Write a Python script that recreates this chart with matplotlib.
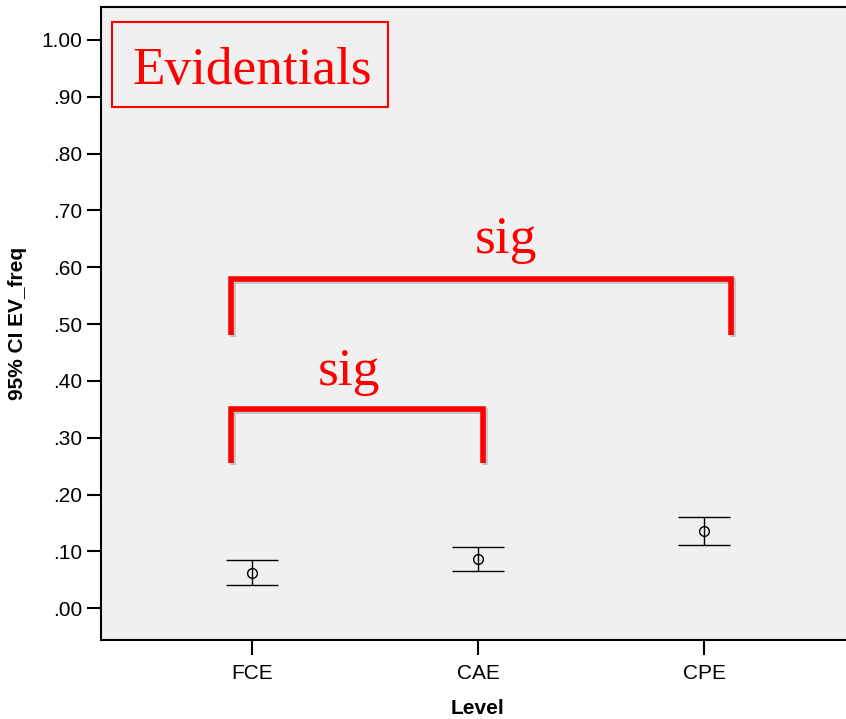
import matplotlib.pyplot as plt
import matplotlib.patheffects as pe
from matplotlib.patches import Rectangle
import numpy as np

levels = ['FCE', 'CAE', 'CPE']
means = [0.062, 0.086, 0.136]
ci_low = [0.041, 0.066, 0.112]
ci_high = [0.084, 0.107, 0.161]
yticks = [0.0, 0.1, 0.2, 0.3, 0.4, 0.5, 0.6, 0.7, 0.8, 0.9, 1.0]
ytick_labels = ['.00', '.10', '.20', '.30', '.40', '.50', '.60', '.70', '.80', '.90', '1.00']

# significance brackets: (left x, right x, top y, leg bottom y)
brackets = [(0.907, 3.12, 0.579, 0.481), (0.907, 2.02, 0.350, 0.255)]
sig_pos = [(2.124, 0.625), (1.429, 0.393)]

plt.rcParams['font.family'] = ['Liberation Sans', 'DejaVu Sans']
fig = plt.figure(figsize=(8.46, 7.19), dpi=100)
ax = fig.add_axes([101/846, 1-640/719, (855-101)/846, (640-7)/719])
ax.set_facecolor('#f0f0f0')

x = np.arange(1, len(levels)+1)
m = np.array(means)
yerr = [m - np.array(ci_low), np.array(ci_high) - m]
ax.errorbar(x, m, yerr=yerr, fmt='o', mfc='none', mec='black', ms=7, mew=1.0,
            ecolor='black', elinewidth=1.0, capsize=19, capthick=1.2)

ax.set_xlim(1-151/226, 1+(855-252)/226)
ax.set_ylim(-0.056, 1.058)
ax.set_xticks(x)
ax.set_xticklabels(levels)
ax.set_yticks(yticks)
ax.set_yticklabels(ytick_labels)
ax.tick_params(axis='both', direction='out', length=10, width=1.5, labelsize=15, colors='black')
ax.tick_params(axis='x', length=11, pad=6)
for s in ['left', 'top', 'bottom']:
    ax.spines[s].set_linewidth(1.5)
ax.spines['right'].set_visible(False)

ax.set_xlabel('Level', fontsize=15, fontweight='bold', labelpad=12)
ax.set_ylabel('95% CI EV_freq', fontsize=15, fontweight='bold', labelpad=10)

shadow = [pe.SimpleLineShadow(offset=(1.5, -1.5), shadow_color='gray', alpha=0.4), pe.Normal()]
for x0, x1, ytop, ybot in brackets:
    ax.plot([x0, x0, x1, x1], [ybot, ytop, ytop, ybot], color='red', lw=4,
            solid_joinstyle='miter', solid_capstyle='butt', path_effects=shadow)

for sx, sy in sig_pos:
    ax.text(sx, sy, 'sig', color='red', fontsize=38.5, family='Liberation Serif',
            ha='center', va='baseline')

ax.add_patch(Rectangle((0.015, 0.8425), 0.3653, 0.1333, transform=ax.transAxes,
                       fill=False, ec='red', lw=1.5))
ax.text(0.042, 0.8784, 'Evidentials', color='red', fontsize=38.3, family='Liberation Serif',
        ha='left', va='baseline', transform=ax.transAxes)

plt.savefig('out.png', dpi=100)
plt.close()
